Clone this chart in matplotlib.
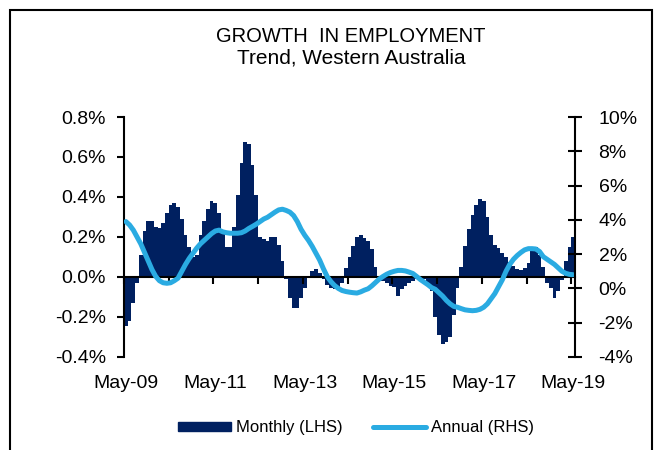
import matplotlib.pyplot as plt
import matplotlib.patches as mpatches
from matplotlib.lines import Line2D
import numpy as np

plt.rcParams['font.family'] = ['Liberation Sans', 'DejaVu Sans']

# monthly employment growth, % (LHS), May-09 .. May-19
monthly = [-0.245, -0.22, -0.13, -0.03, 0.11, 0.23, 0.28, 0.28, 0.25, 0.245,
           0.27, 0.32, 0.36, 0.37, 0.35, 0.29, 0.21, 0.15, 0.10, 0.11,
           0.21, 0.28, 0.34, 0.38, 0.37, 0.32, 0.22, 0.15, 0.15, 0.25,
           0.41, 0.57, 0.675, 0.667, 0.56, 0.41, 0.20, 0.19, 0.18, 0.20,
           0.20, 0.16, 0.08, -0.01, -0.105, -0.155, -0.155, -0.105, -0.055, -0.005,
           0.03, 0.04, 0.02, -0.01, -0.04, -0.055, -0.06, -0.06, -0.03, 0.045,
           0.10, 0.155, 0.20, 0.21, 0.195, 0.18, 0.14, 0.05, 0.005, -0.02,
           -0.03, -0.045, -0.05, -0.095, -0.06, -0.045, -0.03, -0.02, -0.01, -0.005,
           -0.01, -0.04, -0.07, -0.20, -0.29, -0.335, -0.325, -0.30, -0.19, -0.055,
           0.05, 0.155, 0.24, 0.31, 0.36, 0.39, 0.38, 0.30, 0.21, 0.16,
           0.145, 0.12, 0.10, 0.075, 0.055, 0.04, 0.035, 0.045, 0.07, 0.148,
           0.148, 0.11, 0.05, -0.03, -0.055, -0.105, -0.07, -0.013, 0.08, 0.148,
           0.20]

# annual employment growth, % (RHS)
annual = [3.9, 3.7, 3.4, 3.0, 2.6, 2.1, 1.6, 1.1, 0.7, 0.45,
          0.33, 0.3, 0.33, 0.45, 0.6, 1.0, 1.4, 1.75, 2.05, 2.35,
          2.6, 2.8, 3.0, 3.2, 3.35, 3.4, 3.3, 3.25, 3.22, 3.22,
          3.22, 3.25, 3.35, 3.5, 3.62, 3.75, 3.9, 4.05, 4.15, 4.3,
          4.45, 4.58, 4.62, 4.55, 4.45, 4.25, 3.9, 3.45, 3.1, 2.8,
          2.45, 2.05, 1.65, 1.15, 0.7, 0.4, 0.17, 0.0, -0.12, -0.18,
          -0.22, -0.25, -0.27, -0.2, -0.1, -0.02, 0.15, 0.35, 0.55, 0.7,
          0.83, 0.93, 1.0, 1.05, 1.05, 1.02, 0.95, 0.87, 0.7, 0.52,
          0.37, 0.22, 0.05, -0.05, -0.25, -0.45, -0.7, -0.9, -1.05, -1.1,
          -1.18, -1.25, -1.28, -1.3, -1.28, -1.22, -1.1, -0.9, -0.6, -0.3,
          0.1, 0.5, 1.0, 1.4, 1.7, 1.92, 2.1, 2.25, 2.32, 2.32,
          2.3, 2.15, 1.85, 1.7, 1.55, 1.4, 1.2, 1.0, 0.88, 0.82,
          0.8]

date_labels = ['May-09', 'May-11', 'May-13', 'May-15', 'May-17', 'May-19']
left_ticks = [-0.4, -0.2, 0.0, 0.2, 0.4, 0.6, 0.8]
right_ticks = [-4, -2, 0, 2, 4, 6, 8, 10]

navy = '#002060'
sky = '#2AABE2'

fig = plt.figure(figsize=(6.59, 4.5), dpi=100)
ax = fig.add_axes([0.1882, 0.2067, 0.6843, 0.5333])
x = np.arange(len(monthly))

ax.bar(x, monthly, width=1.0, color=navy, linewidth=0)
ax.set_xlim(-0.5, len(monthly) - 0.5)
ax.set_ylim(-0.4, 0.8)
ax.set_yticks(left_ticks)
ax.set_yticklabels(['%.1f%%' % v for v in left_ticks], fontsize=14)
ax.tick_params(axis='y', direction='out', length=5, width=1.5, pad=8)

# x axis sits on the zero line, ticks every 12 months
ax.spines['bottom'].set_position(('data', 0))
ax.spines['bottom'].set_linewidth(1.5)
ax.spines['left'].set_linewidth(1.5)
ax.spines['top'].set_visible(False)
ax.spines['right'].set_visible(False)
ax.set_xticks(np.arange(-0.5, len(monthly), 12))
ax.set_xticklabels([])
ax.tick_params(axis='x', direction='out', length=5, width=1.5)
for k, lab in enumerate(date_labels):
    ax.text(24 * k, -0.11, lab, transform=ax.get_xaxis_transform(),
            ha='center', va='center', fontsize=14)

ax2 = ax.twinx()
ax2.plot(x, annual, color=sky, linewidth=3.6, solid_capstyle='round')
ax2.set_ylim(-4, 10)
ax2.set_yticks(right_ticks)
ax2.set_yticklabels(['%d%%' % v for v in right_ticks], fontsize=14)
ax2.tick_params(axis='y', direction='inout', length=10, width=1.5, pad=12)
for s in ['top', 'left', 'bottom']:
    ax2.spines[s].set_visible(False)
ax2.spines['right'].set_linewidth(1.5)

fig.text(0.533, 0.92, 'GROWTH  IN EMPLOYMENT', ha='center', va='center', fontsize=14.5)
fig.text(0.533, 0.871, 'Trend, Western Australia', ha='center', va='center', fontsize=15)

handles = [mpatches.Patch(color=navy, label='Monthly (LHS)'),
           Line2D([0], [0], color=sky, linewidth=3.6, solid_capstyle='round', label='Annual (RHS)')]
fig.legend(handles=handles, loc='center', bbox_to_anchor=(0.54, 0.049), ncol=2,
           frameon=False, fontsize=12, handlelength=3.2, handleheight=0.5,
           columnspacing=1.8, handletextpad=0.3)

border = mpatches.Rectangle((0.0152, -0.1), 0.974, 1.078, transform=fig.transFigure,
                            fill=False, edgecolor='black', linewidth=1.5, clip_on=False)
fig.patches.append(border)

fig.savefig('out.png', dpi=100)
